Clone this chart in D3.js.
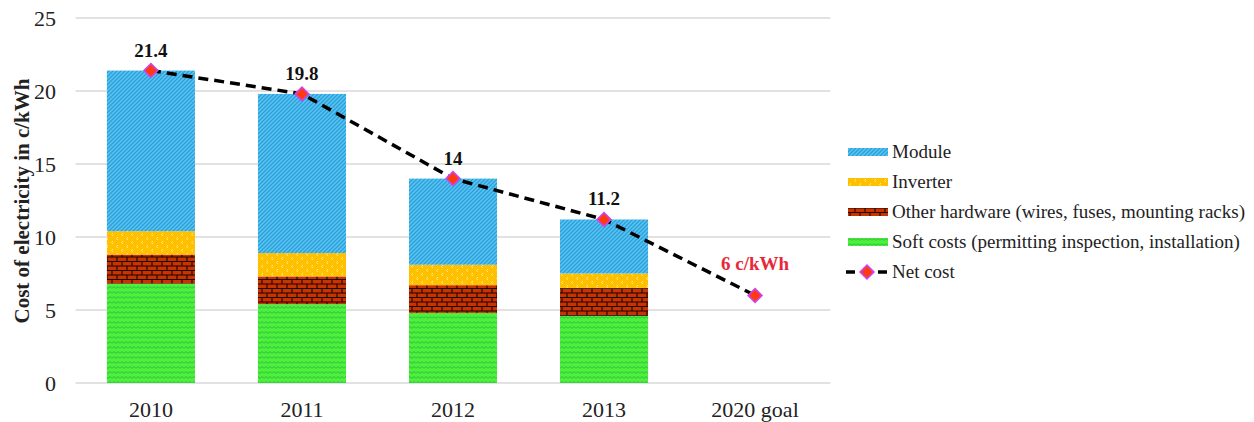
<!DOCTYPE html>
<html>
<head>
<meta charset="utf-8">
<script src="https://cdn.jsdelivr.net/npm/d3@7/dist/d3.min.js"></script>
<style>
  html, body { margin: 0; padding: 0; background: #fff; }
  svg { display: block; font-family: "Liberation Serif", "Times New Roman", serif; }
</style>
</head>
<body>
<svg id="chart" width="1254" height="422"></svg>
<script>
// Cost components of residential PV electricity (c/kWh)
const categories = ["2010", "2011", "2012", "2013", "2020 goal"];
const softCosts = [6.8, 5.4, 4.8, 4.6, 0];
const otherHardware = [2.0, 1.9, 1.9, 1.9, 0];
const inverter = [1.6, 1.6, 1.4, 1.0, 0];
const moduleCost = [11.0, 10.9, 5.9, 3.7, 0];
const netCost = [21.4, 19.8, 14, 11.2, 6];
const netLabels = ["21.4", "19.8", "14", "11.2", "6 c/kWh"];
const yTicks = [0, 5, 10, 15, 20, 25];

const seriesNames = [
  "Soft costs (permitting inspection, installation)",
  "Other hardware (wires, fuses, mounting racks)",
  "Inverter",
  "Module"
];
const seriesValues = [softCosts, otherHardware, inverter, moduleCost];
const seriesFill = ["url(#pSoft)", "url(#pBrick)", "url(#pInv)", "url(#pModule)"];

const svg = d3.select("#chart");
const serif = "Liberation Serif, Times New Roman, serif";

// ---- fill patterns ----
const defs = svg.append("defs");

// Module: blue with fine diagonal hatching
const pm = defs.append("pattern").attr("id", "pModule")
  .attr("patternUnits", "userSpaceOnUse").attr("width", 4).attr("height", 4);
pm.append("rect").attr("width", 4).attr("height", 4).attr("fill", "#5cc6f2");
pm.append("path").attr("d", "M-1,1 l2,-2 M0,4 l4,-4 M3,5 l2,-2")
  .attr("stroke", "#2a9fdb").attr("stroke-width", 1.4);

// Inverter: amber with small pale flecks
const pi = defs.append("pattern").attr("id", "pInv")
  .attr("patternUnits", "userSpaceOnUse").attr("width", 10).attr("height", 8);
pi.append("rect").attr("width", 10).attr("height", 8).attr("fill", "#ffc000");
pi.append("path").attr("d", "M3,1 l-1.5,1.5 l1.5,1.5 M8,5 l-1.5,1.5 l1.5,1.5")
  .attr("stroke", "#ffe48a").attr("stroke-width", 1).attr("fill", "none");

// Other hardware: red brick with dark mortar
const pb = defs.append("pattern").attr("id", "pBrick")
  .attr("patternUnits", "userSpaceOnUse").attr("width", 10).attr("height", 9);
pb.append("rect").attr("width", 10).attr("height", 9).attr("fill", "#c93300");
pb.append("path")
  .attr("d", "M0,0.5 H10 M0,5 H10 M2,0 V4.5 M7,4.5 V9")
  .attr("stroke", "#1a0500").attr("stroke-width", 1.1).attr("fill", "none");

// Soft costs: green with wavy lines
const ps = defs.append("pattern").attr("id", "pSoft")
  .attr("patternUnits", "userSpaceOnUse").attr("width", 8).attr("height", 5);
ps.append("rect").attr("width", 8).attr("height", 5).attr("fill", "#4ff03a");
ps.append("path").attr("d", "M0,3.5 L2,1.5 L4,3.5 L6,1.5 L8,3.5")
  .attr("stroke", "#25b84a").attr("stroke-width", 1).attr("fill", "none");

// ---- scales ----
const x = d3.scaleBand().domain(categories).range([75.5, 830.5]).paddingInner(0.417).paddingOuter(0.208);
const y = d3.scaleLinear().domain([0, 25]).range([383, 18]);

// gridlines
svg.append("g").selectAll("line").data(yTicks).join("line")
  .attr("x1", 75.5).attr("x2", 830.5)
  .attr("y1", d => y(d)).attr("y2", d => y(d))
  .attr("stroke", "#d9d9d9").attr("stroke-width", 1.3);

// y axis labels
const yAxis = svg.append("g").attr("transform", "translate(62,0)")
  .call(d3.axisLeft(y).tickValues(yTicks).tickSize(0).tickPadding(6));
yAxis.select(".domain").remove();
yAxis.selectAll("text").attr("font-size", 22).attr("fill", "#222")
  .attr("font-family", serif);

// x axis labels
const xAxis = svg.append("g").attr("transform", "translate(0,383)")
  .call(d3.axisBottom(x).tickSize(0).tickPadding(18));
xAxis.select(".domain").remove();
xAxis.selectAll("text").attr("font-size", 22).attr("fill", "#222")
  .attr("font-family", serif);

// y title
svg.append("text")
  .attr("transform", "translate(29,201) rotate(-90)")
  .attr("text-anchor", "middle")
  .attr("font-size", 21).attr("font-weight", "bold").attr("fill", "#222")
  .text("Cost of electricity in c/kWh");

// ---- stacked bars ----
const rows = categories.map((c, i) => {
  const r = { cat: c };
  seriesNames.forEach((s, k) => { r[s] = seriesValues[k][i]; });
  return r;
});
const stacked = d3.stack().keys(seriesNames)(rows);

svg.append("g").selectAll("g").data(stacked).join("g")
  .attr("fill", (d, k) => seriesFill[k])
  .selectAll("rect").data(d => d.filter(p => p[1] - p[0] > 0)).join("rect")
  .attr("x", d => x(d.data.cat))
  .attr("width", x.bandwidth())
  .attr("y", d => y(d[1]))
  .attr("height", d => y(d[0]) - y(d[1]));

// ---- net cost line ----
const cx = c => x(c) + x.bandwidth() / 2;
const line = d3.line().x((d, i) => cx(categories[i])).y(d => y(d));
svg.append("path").datum(netCost)
  .attr("d", line).attr("fill", "none")
  .attr("stroke", "#000").attr("stroke-width", 3.5)
  .attr("stroke-dasharray", "10,6");

const marker = d3.symbol().type(d3.symbolSquare).size(95);
svg.append("g").selectAll("path").data(netCost).join("path")
  .attr("transform", (d, i) => `translate(${cx(categories[i])},${y(d)}) rotate(45)`)
  .attr("d", marker)
  .attr("fill", "#ff3a10").attr("stroke", "#cc44ee").attr("stroke-width", 1.6);

// value labels
svg.append("g").selectAll("text").data(netCost).join("text")
  .attr("x", (d, i) => cx(categories[i]))
  .attr("y", (d, i) => y(d) - (i === 4 ? 25 : 14))
  .attr("text-anchor", "middle")
  .attr("font-size", 19).attr("font-weight", "bold")
  .attr("fill", (d, i) => i === 4 ? "#e8283a" : "#111")
  .text((d, i) => netLabels[i]);

// ---- legend ----
const legendItems = [
  { name: "Module", fill: "url(#pModule)" },
  { name: "Inverter", fill: "url(#pInv)" },
  { name: "Other hardware (wires, fuses, mounting racks)", fill: "url(#pBrick)" },
  { name: "Soft costs (permitting inspection, installation)", fill: "url(#pSoft)" },
  { name: "Net cost", line: true }
];
const lg = svg.append("g").selectAll("g").data(legendItems).join("g")
  .attr("transform", (d, i) => `translate(848,${152 + i * 30})`);
lg.filter(d => !d.line).append("rect")
  .attr("x", 0).attr("y", -4).attr("width", 40).attr("height", 8)
  .attr("fill", d => d.fill);
const ll = lg.filter(d => d.line);
ll.append("line").attr("x1", -2).attr("x2", 40).attr("y1", 0).attr("y2", 0)
  .attr("stroke", "#000").attr("stroke-width", 3.5).attr("stroke-dasharray", "9,7");
ll.append("path").attr("transform", "translate(19,0) rotate(45)")
  .attr("d", marker)
  .attr("fill", "#ff3a10").attr("stroke", "#cc44ee").attr("stroke-width", 1.6);
lg.append("text").attr("x", 44).attr("y", 6)
  .attr("font-size", 19).attr("fill", "#222")
  .text(d => d.name);
</script>
</body>
</html>
